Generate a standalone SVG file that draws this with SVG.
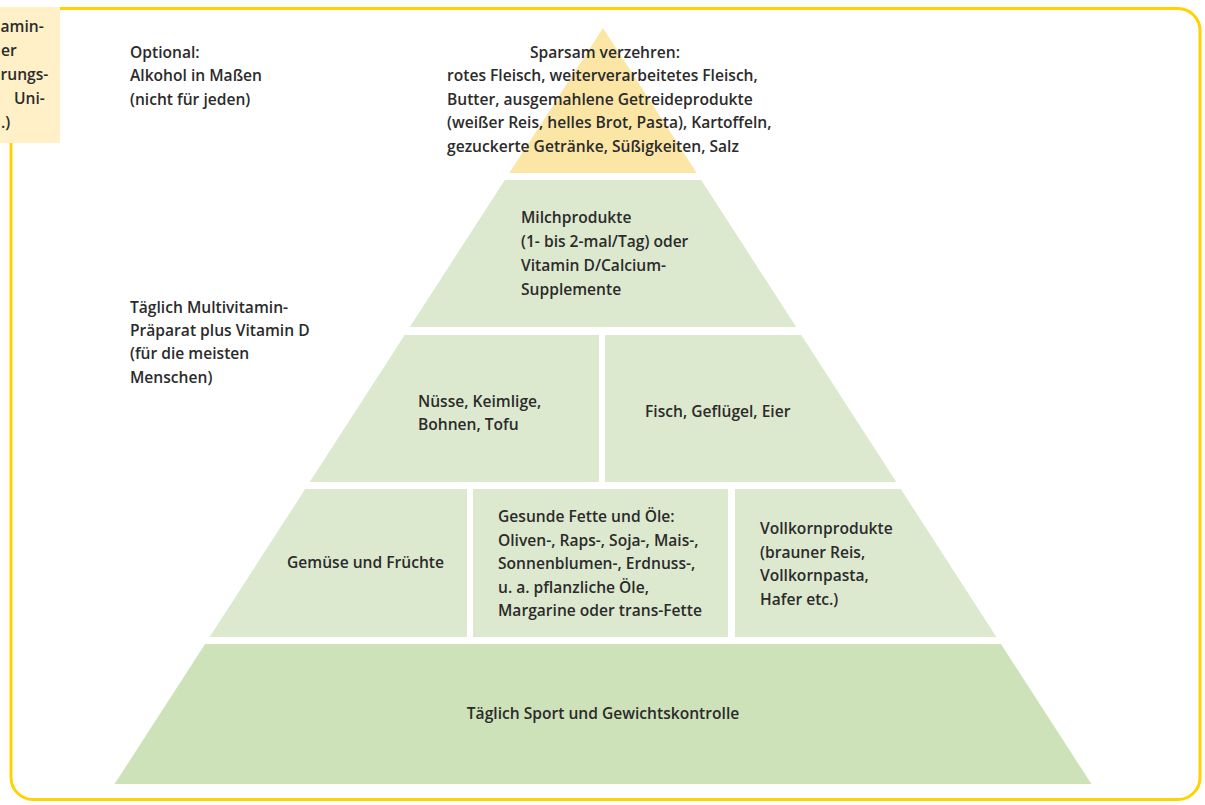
<svg xmlns="http://www.w3.org/2000/svg" width="1205" height="805" viewBox="0 0 1205 805">
<style>
.t{font-family:"Open Sans","Noto Sans","Liberation Sans",sans-serif;font-size:15.6px;font-weight:600;fill:#2b2b2b}
.g{fill:#dde9cf}
.g2{fill:#cde2b8}
.y{fill:#fbe6a5}
</style>
<rect x="11" y="8.5" width="1189" height="791" rx="22" fill="none" stroke="#ffd200" stroke-width="3"/>
<g id="legend">
<rect x="0" y="7" width="60" height="136" fill="#fff0c8"/>
<text class="t" x="0.5" y="32">amin-</text>
<text class="t" x="1" y="56">er</text>
<text class="t" x="0.5" y="80">rungs-</text>
<text class="t" x="14" y="104">Uni-</text>
<text class="t" x="1" y="128">.)</text>
</g>
<g id="sparsam">
<polygon class="y" points="603,28 696.7,173 509.3,173"/>
<text class="t" x="530" y="58">Sparsam verzehren:</text>
<text class="t" x="447" y="81">rotes Fleisch, weiterverarbeitetes Fleisch,</text>
<text class="t" x="447" y="105">Butter, ausgemahlene Getreideprodukte</text>
<text class="t" x="447" y="128">(weißer Reis, helles Brot, Pasta), Kartoffeln,</text>
<text class="t" x="447" y="152">gezuckerte Getränke, Süßigkeiten, Salz</text>
</g>
<g id="optional">
<text class="t" x="130" y="58">Optional:</text>
<text class="t" x="130" y="81">Alkohol in Maßen</text>
<text class="t" x="130" y="105">(nicht für jeden)</text>
</g>
<g id="multivitamin">
<text class="t" x="130" y="313">Täglich Multivitamin-</text>
<text class="t" x="130" y="336">Präparat plus Vitamin D</text>
<text class="t" x="130" y="359">(für die meisten</text>
<text class="t" x="130" y="383">Menschen)</text>
</g>
<g id="milch">
<polygon class="g" points="504.8,180 701.2,180 796.2,327 409.8,327"/>
<text class="t" x="521" y="223">Milchprodukte</text>
<text class="t" x="521" y="247">(1- bis 2-mal/Tag) oder</text>
<text class="t" x="521" y="271">Vitamin D/Calcium-</text>
<text class="t" x="521" y="295">Supplemente</text>
</g>
<g id="nuesse">
<polygon class="g" points="404.7,335 599,335 599,482 309.7,482"/>
<text class="t" x="418" y="407">Nüsse, Keimlige,</text>
<text class="t" x="418" y="430">Bohnen, Tofu</text>
</g>
<g id="fisch">
<polygon class="g" points="605,335 801.3,335 896.3,482 605,482"/>
<text class="t" x="645" y="417">Fisch, Geflügel, Eier</text>
</g>
<g id="gemuese">
<polygon class="g" points="305.2,489 467,489 467,637 209.6,637"/>
<text class="t" x="287" y="568">Gemüse und Früchte</text>
</g>
<g id="fette">
<rect class="g" x="473" y="489" width="255" height="148"/>
<text class="t" x="498" y="522">Gesunde Fette und Öle:</text>
<text class="t" x="498" y="546">Oliven-, Raps-, Soja-, Mais-,</text>
<text class="t" x="498" y="569">Sonnenblumen-, Erdnuss-,</text>
<text class="t" x="498" y="593">u. a. pflanzliche Öle,</text>
<text class="t" x="498" y="616">Margarine oder trans-Fette</text>
</g>
<g id="vollkorn">
<polygon class="g" points="735,489 900.8,489 996.4,637 735,637"/>
<text class="t" x="760" y="534">Vollkornprodukte</text>
<text class="t" x="760" y="558">(brauner Reis,</text>
<text class="t" x="760" y="581">Vollkornpasta,</text>
<text class="t" x="760" y="605">Hafer etc.)</text>
</g>
<g id="sport">
<polygon class="g2" points="205.1,644 1000.9,644 1091.4,784 114.6,784"/>
<text class="t" x="603" y="719" text-anchor="middle">Täglich Sport und Gewichtskontrolle</text>
</g>
<g id="connectors"/>
</svg>
